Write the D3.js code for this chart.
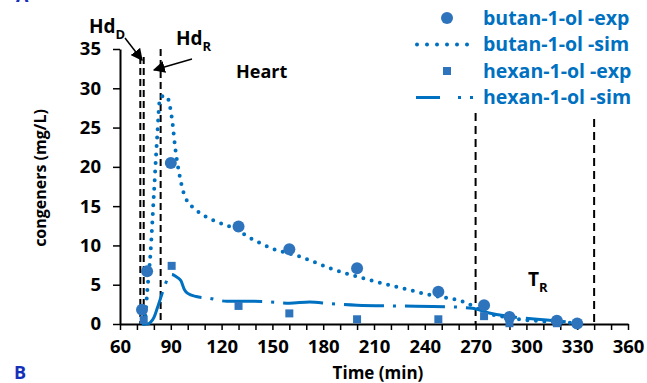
<!DOCTYPE html>
<html>
<head>
<meta charset="utf-8">
<script src="https://cdn.jsdelivr.net/npm/d3@7"></script>
<style>
  body { margin: 0; background: #fff; }
  svg { display: block; font-family: "Open Sans", Lato, sans-serif; font-weight: bold; }
</style>
</head>
<body>
<div id="chart"></div>
<script>
// data
const xTicks = [60, 90, 120, 150, 180, 210, 240, 270, 300, 330, 360];
const yTicks = [0, 5, 10, 15, 20, 25, 30, 35];

const butanExp = [[73, 1.8], [76, 6.7], [90, 20.5], [130, 12.4], [160, 9.5], [200, 7.1],
  [248, 4.1], [275, 2.4], [290, 0.9], [318, 0.4], [330, 0.05]];
const hexanExp = [[74, 0.5], [90.5, 7.4], [130, 2.3], [160, 1.35], [200, 0.6], [248, 0.6],
  [275, 1.0], [290, 0.1], [318, 0.1]];

const butanSim = [[74, 0], [75, 1], [76, 3.9], [78, 9], [80, 16.5], [82, 24], [83.5, 28.5],
  [85, 29], [87.5, 29], [89.5, 27.7], [91, 25.6], [92.5, 22.6], [95.4, 18.7], [98.4, 16.2],
  [105, 14.5], [115, 13.2], [127, 12.2], [139, 10.7], [150, 9.6], [166, 8.6], [184, 7.1],
  [204, 5.8], [223, 4.75], [243, 3.7], [263, 2.8], [277, 1.4], [292, 0.72], [312, 0.3], [335, 0.1]];
const hexanSim = [[74, 0], [76, 0], [78, 0.2], [80, 0.8], [82, 2.0], [84, 3.3], [86, 4.6],
  [88, 5.7], [90, 6.3], [92, 6.2], [94, 5.9], [96, 5.5], [98, 4.4], [100, 3.9], [105, 3.5],
  [112, 3.3], [123, 2.9], [135, 2.9], [145, 2.85], [160, 2.65], [172, 2.8], [184, 2.6],
  [200, 2.4], [223, 2.3], [253, 2.2], [268, 2.0], [278, 1.4], [292, 0.9], [312, 0.5], [335, 0.1]];

// vertical cut lines (min)
const hdD = [72, 74];
const hdR = 84;
const tailCuts = [270, 340];

const blue = '#0070C0';
const markBlue = '#2E74BD';

const width = 647, height = 383;
const margin = { top: 49, right: 19, bottom: 59, left: 120 };
const w = width - margin.left - margin.right;
const h = height - margin.top - margin.bottom;

const svg = d3.select('#chart').append('svg')
  .attr('width', width)
  .attr('height', height);

const defs = svg.append('defs');
defs.append('marker')
  .attr('id', 'arrow')
  .attr('viewBox', '0 0 10 10')
  .attr('refX', 9).attr('refY', 5)
  .attr('markerWidth', 12).attr('markerHeight', 12)
  .attr('markerUnits', 'userSpaceOnUse')
  .attr('orient', 'auto')
  .append('path')
  .attr('d', 'M0,0 L10,5 L0,10 z')
  .attr('fill', '#000');

const g = svg.append('g').attr('transform', `translate(${margin.left},${margin.top})`);

const x = d3.scaleLinear().domain([60, 360]).range([0, w]);
const y = d3.scaleLinear().domain([0, 35]).range([h, 0]);

// X axis
const xAxis = g.append('g')
  .attr('transform', `translate(0,${h})`)
  .call(d3.axisBottom(x).tickValues(d3.range(60, 361, 10)).tickSize(6).tickSizeOuter(0)
    .tickFormat(d => xTicks.includes(d) ? d : ''));
xAxis.select('.domain').attr('stroke-width', 2);
xAxis.selectAll('.tick line').attr('stroke-width', 1.5);
xAxis.selectAll('text').attr('font-size', '18.5px').attr('font-weight', 'bold')
  .attr('font-family', '"Open Sans", sans-serif').attr('fill', '#000').attr('dy', '1.08em');

// Y axis
const yAxis = g.append('g')
  .call(d3.axisLeft(y).tickValues(yTicks).tickSize(7).tickSizeOuter(0));
yAxis.select('.domain').attr('stroke-width', 2);
yAxis.selectAll('.tick line').attr('stroke-width', 1.5);
yAxis.selectAll('text').attr('font-size', '18.5px').attr('font-weight', 'bold')
  .attr('font-family', '"Open Sans", sans-serif').attr('fill', '#000').attr('x', -19);

// Axis titles
svg.append('text')
  .attr('transform', `translate(46,178) rotate(-90)`)
  .attr('text-anchor', 'middle')
  .attr('font-size', '16px')
  .text('congeners (mg/L)');
svg.append('text')
  .attr('x', 378).attr('y', 379)
  .attr('text-anchor', 'middle')
  .attr('font-size', '17px')
  .text('Time (min)');

// Panel letters
svg.append('text').attr('x', 14).attr('y', 379)
  .attr('font-size', '18px').attr('fill', '#1530B8').text('B');
svg.append('text').attr('x', 16).attr('y', 2)
  .attr('font-size', '18px').attr('fill', '#1530B8').text('A');

// Vertical dashed cut lines
hdD.forEach(t => {
  g.append('line')
    .attr('x1', x(t)).attr('x2', x(t)).attr('y1', 8).attr('y2', h)
    .attr('stroke', '#000').attr('stroke-width', 2).attr('stroke-dasharray', '7 4');
});
g.append('line')
  .attr('x1', x(hdR)).attr('x2', x(hdR)).attr('y1', 0).attr('y2', h)
  .attr('stroke', '#000').attr('stroke-width', 2).attr('stroke-dasharray', '7 4');
tailCuts.forEach((t, i) => {
  g.append('line')
    .attr('x1', x(t)).attr('x2', x(t)).attr('y1', i ? 70 : 64).attr('y2', h)
    .attr('stroke', '#000').attr('stroke-width', 2).attr('stroke-dasharray', '8 5');
});

// Simulated curves
const line = d3.line().x(d => x(d[0])).y(d => y(d[1])).curve(d3.curveMonotoneX);
g.append('path').datum(butanSim)
  .attr('d', line).attr('fill', 'none').attr('stroke', blue)
  .attr('stroke-width', 4).attr('stroke-linecap', 'round').attr('stroke-dasharray', '0 8.5');
g.append('path').datum(hexanSim)
  .attr('d', line).attr('fill', 'none').attr('stroke', blue)
  .attr('stroke-width', 3).attr('stroke-dasharray', '40 9 3 9');

// Experimental markers
g.selectAll('.bexp').data(butanExp).enter().append('circle')
  .attr('cx', d => x(d[0])).attr('cy', d => y(d[1])).attr('r', 6)
  .attr('fill', markBlue);
g.selectAll('.hexp').data(hexanExp).enter().append('rect')
  .attr('x', d => x(d[0]) - 4).attr('y', d => y(d[1]) - 4)
  .attr('width', 8).attr('height', 8)
  .attr('fill', markBlue);

// Annotations
const hdDText = svg.append('text').attr('x', 89).attr('y', 33).attr('font-size', '19px');
hdDText.append('tspan').text('Hd');
hdDText.append('tspan').attr('font-size', '13px').attr('dy', 6).text('D');
const hdRText = svg.append('text').attr('x', 176).attr('y', 45).attr('font-size', '19px');
hdRText.append('tspan').text('Hd');
hdRText.append('tspan').attr('font-size', '13px').attr('dy', 6).text('R');

svg.append('line').attr('x1', 125).attr('y1', 38).attr('x2', 142).attr('y2', 60)
  .attr('stroke', '#000').attr('stroke-width', 1.5).attr('marker-end', 'url(#arrow)');
svg.append('line').attr('x1', 192).attr('y1', 59).attr('x2', 154).attr('y2', 70)
  .attr('stroke', '#000').attr('stroke-width', 1.5).attr('marker-end', 'url(#arrow)');

svg.append('text').attr('x', 236).attr('y', 78).attr('font-size', '18px').text('Heart');
const trText = svg.append('text').attr('x', 528).attr('y', 286).attr('font-size', '19px');
trText.append('tspan').text('T');
trText.append('tspan').attr('font-size', '13px').attr('dy', 6).text('R');

// Legend
const legend = svg.append('g');
const rows = [
  { label: 'butan-1-ol -exp', kind: 'circle' },
  { label: 'butan-1-ol -sim', kind: 'dot' },
  { label: 'hexan-1-ol -exp', kind: 'square' },
  { label: 'hexan-1-ol -sim', kind: 'dashdot' }
];
rows.forEach((r, i) => {
  const cy = 18 + i * 26.5;
  if (r.kind === 'circle') {
    legend.append('circle').attr('cx', 447).attr('cy', cy).attr('r', 6).attr('fill', markBlue);
  } else if (r.kind === 'square') {
    legend.append('rect').attr('x', 443).attr('y', cy - 4).attr('width', 8).attr('height', 8).attr('fill', markBlue);
  } else if (r.kind === 'dot') {
    legend.append('line').attr('x1', 417).attr('x2', 477).attr('y1', cy).attr('y2', cy)
      .attr('stroke', blue).attr('stroke-width', 4).attr('stroke-linecap', 'round')
      .attr('stroke-dasharray', '0 10');
  } else {
    legend.append('line').attr('x1', 416).attr('x2', 474).attr('y1', cy).attr('y2', cy)
      .attr('stroke', blue).attr('stroke-width', 3).attr('stroke-dasharray', '24 18 3 9 3 40');
  }
  legend.append('text').attr('x', 483).attr('y', cy + 6.5)
    .attr('font-size', '19.5px').attr('fill', blue).text(r.label);
});
</script>
</body>
</html>
